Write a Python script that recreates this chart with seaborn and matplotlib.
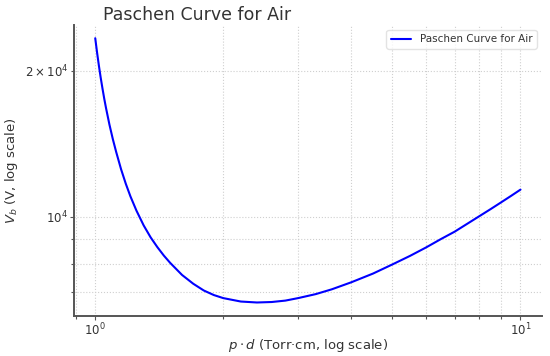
import pandas as pd
import matplotlib.pyplot as plt
import seaborn as sns

# values
pd_values = [1.0, 1.01, 1.02, 1.03, 1.04, 1.05, 1.06, 1.08, 1.10, 1.12, 1.15, 1.18,
             1.21, 1.25, 1.30, 1.35, 1.40, 1.45, 1.50, 1.60, 1.70, 1.80, 1.90, 2.0,
             2.2, 2.4, 2.6, 2.8, 3.0, 3.3, 3.6, 4.0, 4.5, 5.0, 5.5, 6.0, 6.5, 7.0,
             7.5, 8.0, 8.5, 9.0, 9.5, 10.0]
vb_values = [23350, 21810, 20490, 19360, 18390, 17520, 16770, 15490, 14460, 13610, 12540, 11700,
             11020, 10300, 9600, 9070, 8660, 8320, 8040, 7590, 7280, 7050, 6900, 6800,
             6690, 6660, 6675, 6720, 6800, 6930, 7090, 7330, 7640, 7980, 8310, 8650, 9000, 9320,
             9680, 10030, 10370, 10710, 11045, 11380]

df = pd.DataFrame({'pd': pd_values, 'Vb': vb_values})

sns.set_style('whitegrid')
plt.rcParams['font.family'] = ['DejaVu Sans']
text_color = '#333333'

fig = plt.figure(figsize=(5.5, 3.56), dpi=100)
ax = fig.add_axes([0.1345, 0.1132, 0.8505, 0.8166])

sns.lineplot(data=df, x='pd', y='Vb', color='blue', linewidth=1.5,
             label='Paschen Curve for Air', ax=ax)
ax.set_xscale('log')
ax.set_yscale('log')
ax.margins(0.05)

ax.grid(True, which='both', linestyle=':', linewidth=0.8, color='#cfcfcf')
for side in ['top', 'right']:
    ax.spines[side].set_visible(False)
for side in ['left', 'bottom']:
    ax.spines[side].set_color('#555555')
    ax.spines[side].set_linewidth(1.4)
ax.tick_params(which='both', colors='#555555', labelcolor=text_color, labelsize=8.5,
               direction='out', length=3, width=0.8, pad=1.5, bottom=True, left=True)
ax.tick_params(which='minor', length=2)

ax.set_xlabel(r'$p \cdot d$ (Torr·cm, log scale)', fontsize=9.5, color=text_color)
ax.set_ylabel(r'$V_b$ (V, log scale)', fontsize=9.5, color=text_color)
ax.xaxis.set_label_coords(0.5, -0.072)
ax.yaxis.set_label_coords(-0.115, 0.5)
ax.set_title('Paschen Curve for Air', fontsize=12.5, color=text_color, loc='left', x=0.062, pad=3.5)

leg = ax.legend(loc='upper right', fontsize=7.5, frameon=True)
leg.get_frame().set_edgecolor('#dddddd')
for t in leg.get_texts():
    t.set_color(text_color)

fig.savefig('out.png', dpi=100)
